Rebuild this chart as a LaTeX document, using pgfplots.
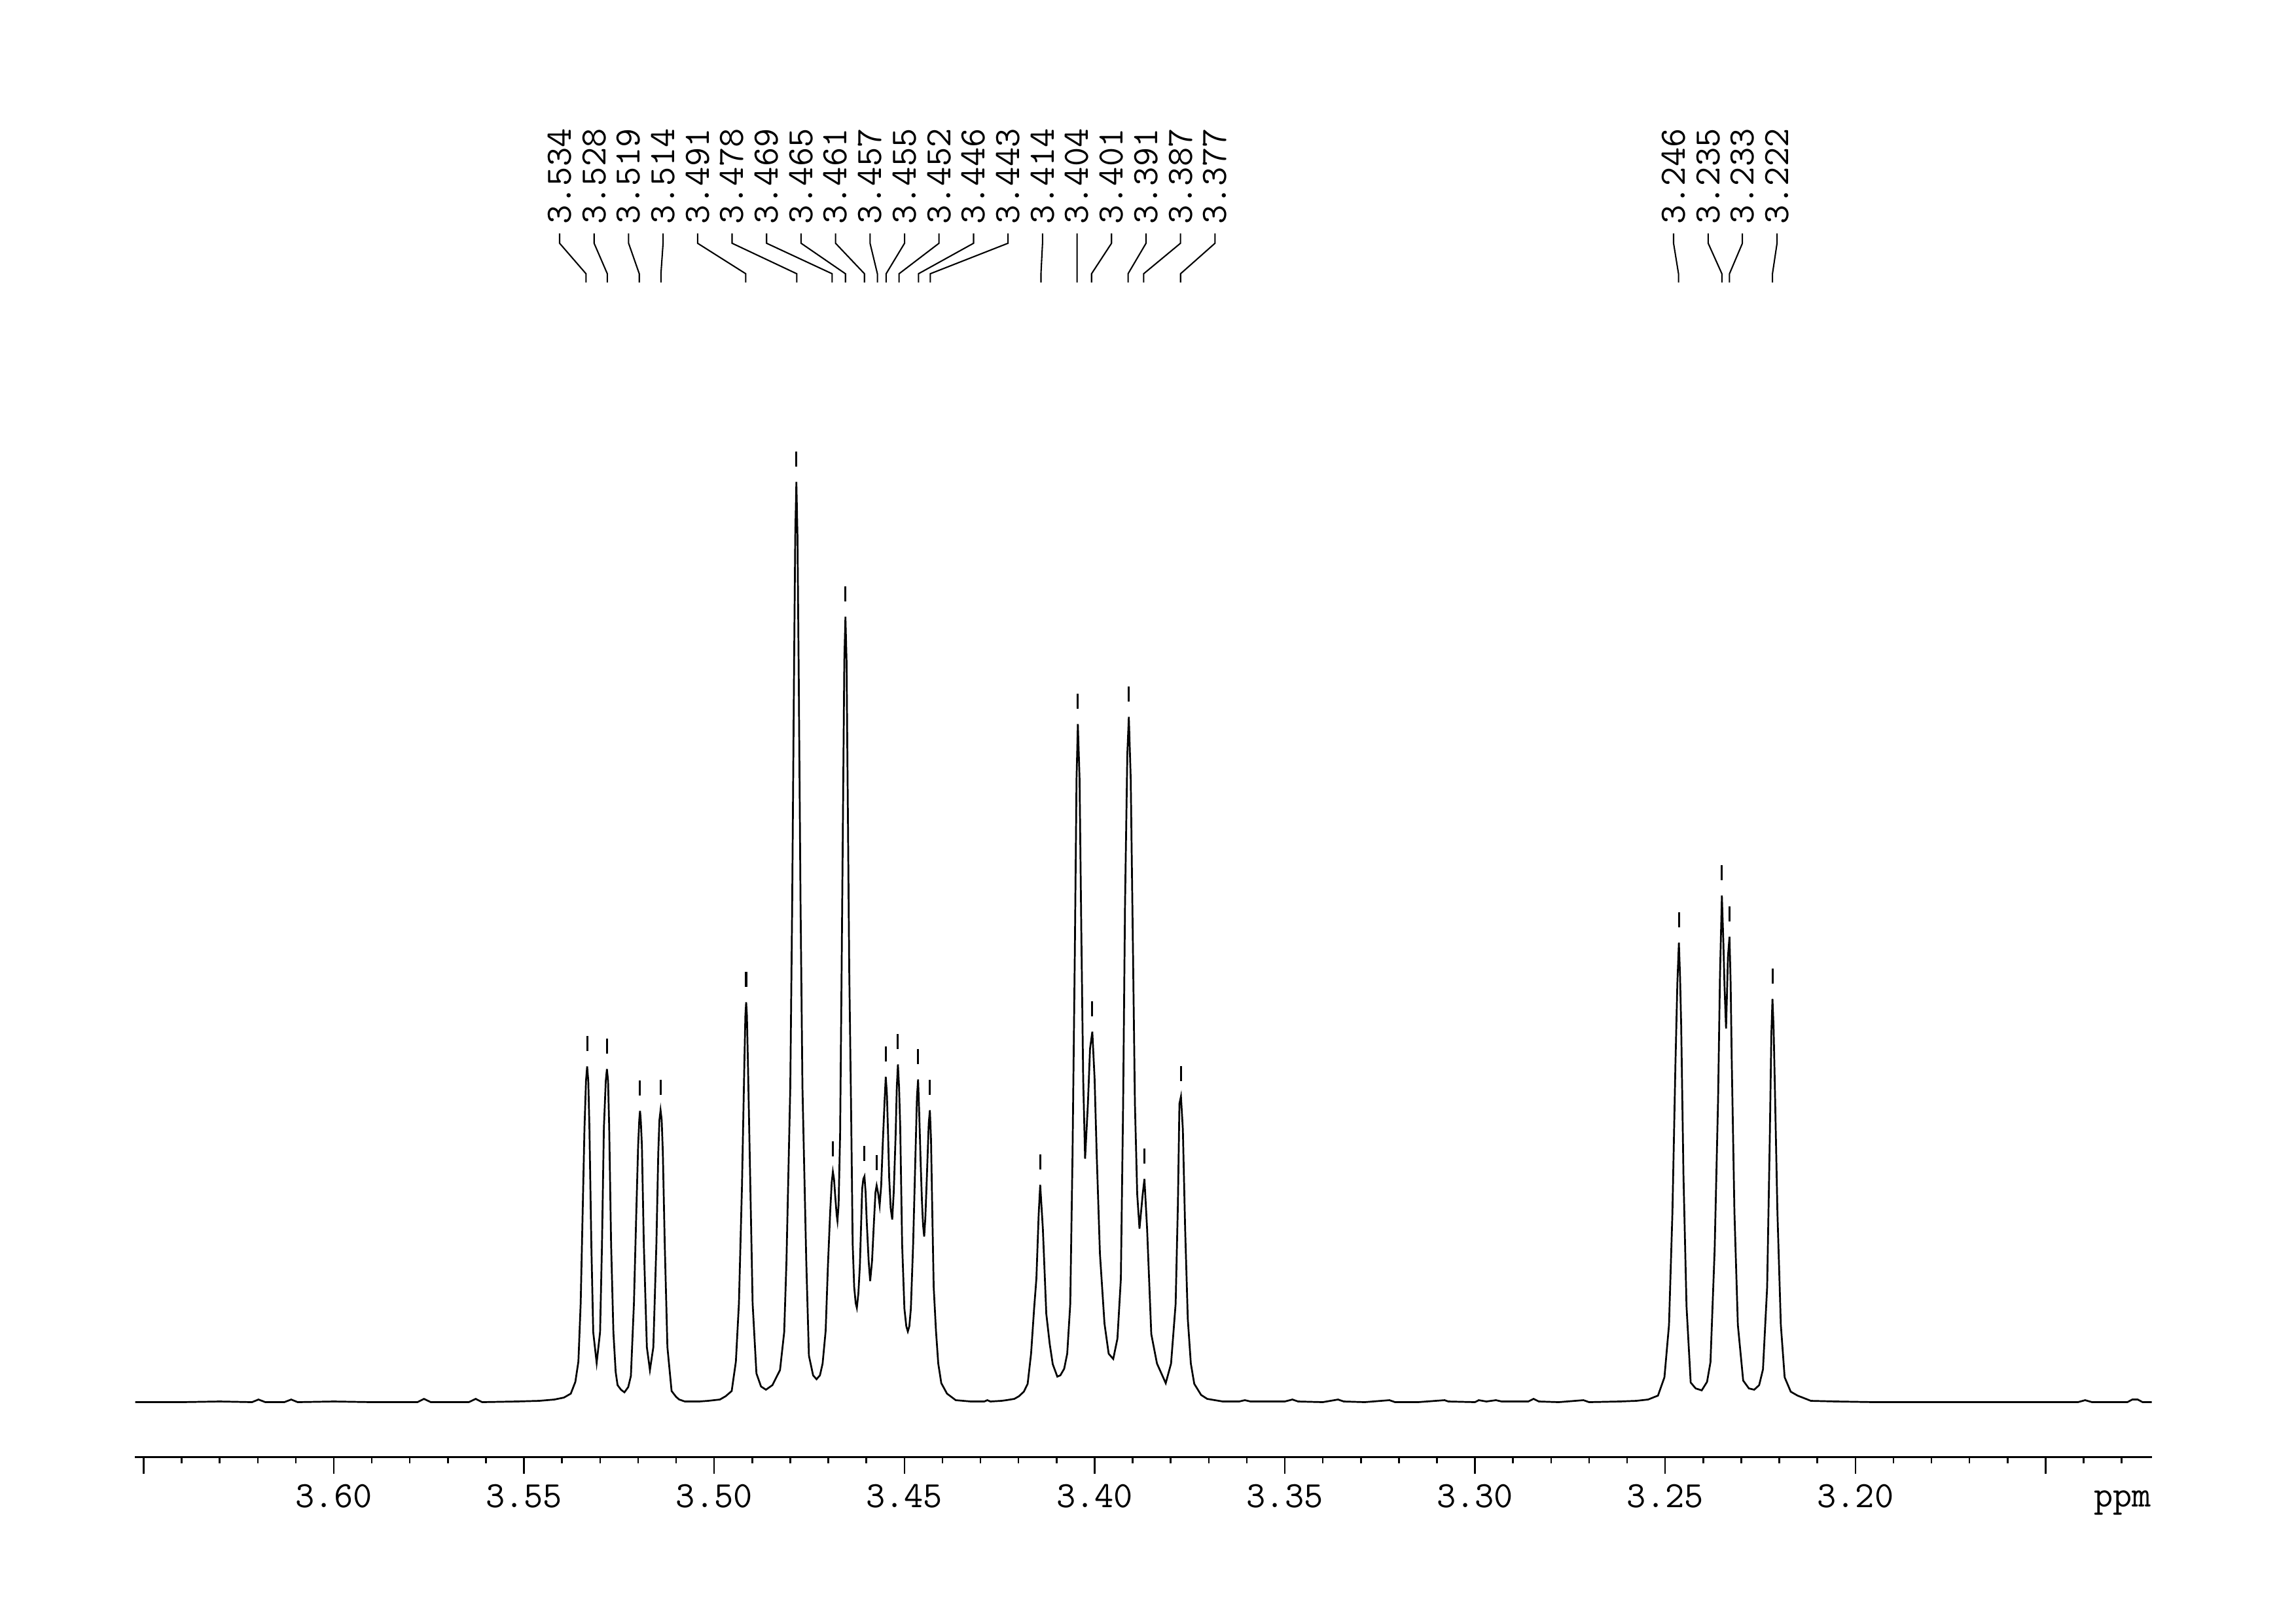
\documentclass[border=0pt]{standalone}
\usepackage{pgfplots}
\pgfplotsset{compat=1.18}
\newcommand\lbl{\fontsize{13.6}{16}\selectfont\ttfamily}
\begin{document}
\begin{tikzpicture}
\useasboundingbox (0,0) rectangle (841.92pt,594.96pt);
\begin{axis}[
  at={(49.54pt,60.55pt)}, anchor=south west,
  scale only axis, width=739.46pt, height=510.41pt,
  x dir=reverse,
  xmin=3.12211, xmax=3.65224, ymin=-85.2, ymax=2041.5,
  axis x line*=bottom, axis y line=none,
  axis line style={line width=0.65pt},
  tick align=outside,
  every tick/.style={black, line width=0.6pt},
  major tick length=6.1pt, minor tick length=2.2pt,
  xtick={3.15,3.20,3.25,3.30,3.35,3.40,3.45,3.50,3.55,3.60,3.65},
  xticklabels={,3.20,3.25,3.30,3.35,3.40,3.45,3.50,3.55,3.60,},
  minor xtick={3.13,3.14,3.16,3.17,3.18,3.19,3.21,3.22,3.23,3.24,3.26,3.27,3.28,3.29,3.31,3.32,3.33,3.34,3.36,3.37,3.38,3.39,3.41,3.42,3.43,3.44,3.46,3.47,3.48,3.49,3.51,3.52,3.53,3.54,3.56,3.57,3.58,3.59,3.61,3.62,3.63,3.64},
  xticklabel style={font=\lbl, anchor=base, yshift=-12.3pt},
  clip=false,
]
\addplot[black, line width=0.65pt] coordinates {
(3.6522,-1) (3.6400,-1) (3.6300,0) (3.6215,-1) (3.6198,3) (3.6180,-1) (3.6130,-1) (3.6112,3) (3.6095,-1) (3.6000,0) (3.5900,-1) (3.5780,-1) (3.5763,4) (3.5745,-1) (3.5645,-1) (3.5627,4) (3.5610,-1) (3.5520,0) (3.5460,1) (3.5420,3) (3.5395,6)
(3.5377,12) (3.5365,30) (3.5357,61) (3.5351,150) (3.5346,284) (3.5341,418) (3.5337,490) (3.5334,512) (3.5331,490) (3.5328,418) (3.5323,240) (3.5318,106) (3.5309,59) (3.5300,106) (3.5295,240) (3.5290,418) (3.5285,490) (3.5282,508) (3.5279,490) (3.5276,418) (3.5271,240) (3.5265,106) (3.5259,45) (3.5254,25) (3.5245,18) (3.5236,14) (3.5226,22) (3.5219,39) (3.5211,150) (3.5205,284) (3.5200,390) (3.5197,430) (3.5195,444) (3.5193,430) (3.5190,390) (3.5185,240) (3.5177,83) (3.5169,48) (3.5160,83) (3.5152,240) (3.5147,380) (3.5144,430) (3.5141,445) (3.5138,430) (3.5135,380) (3.5130,240) (3.5123,83) (3.5112,16) (3.5100,7) (3.5092,3) (3.5077,0) (3.5040,0) (3.5016,1) (3.4985,3) (3.4970,8) (3.4954,16) (3.4943,61) (3.4935,150) (3.4927,329) (3.4921,508) (3.4918,590) (3.4916,610) (3.4914,590) (3.4911,508) (3.4905,329) (3.4899,150) (3.4889,43) (3.4877,23) (3.4864,18) (3.4847,25) (3.4827,48) (3.4816,106) (3.4810,215) (3.4800,480) (3.4795,760) (3.4790,1124) (3.4787,1320) (3.4784,1405) (3.4781,1320) (3.4778,1124) (3.4773,760) (3.4768,480) (3.4758,215) (3.4751,70) (3.4740,40) (3.4731,34) (3.4722,40) (3.4715,58) (3.4707,108) (3.4701,208) (3.4695,291) (3.4691,335) (3.4688,351) (3.4685,340) (3.4682,315) (3.4678,285) (3.4676,276) (3.4673,300) (3.4669,408) (3.4665,660) (3.4660,995) (3.4658,1130) (3.4655,1199) (3.4652,1130) (3.4650,995) (3.4645,660) (3.4640,441) (3.4636,241) (3.4632,175) (3.4628,150) (3.4625,143) (3.4621,165) (3.4617,208) (3.4611,325) (3.4608,340) (3.4605,344) (3.4602,320) (3.4599,275) (3.4594,215) (3.4590,184) (3.4585,215) (3.4580,275) (3.4576,320) (3.4573,330) (3.4569,318) (3.4565,300) (3.4561,330) (3.4557,392) (3.4552,460) (3.4549,496) (3.4546,470) (3.4543,410) (3.4540,342) (3.4536,295) (3.4532,278) (3.4528,320) (3.4523,408) (3.4520,480) (3.4517,515) (3.4514,480) (3.4511,420) (3.4506,241) (3.4500,142) (3.4495,115) (3.4491,107) (3.4487,115) (3.4483,142) (3.4477,241) (3.4471,375) (3.4467,465) (3.4464,492) (3.4461,440) (3.4457,360) (3.4454,308) (3.4451,270) (3.4448,252) (3.4445,280) (3.4441,342) (3.4436,425) (3.4433,445) (3.4430,400) (3.4427,300) (3.4423,175) (3.4417,108) (3.4411,58) (3.4403,28) (3.4388,12) (3.4365,2) (3.4325,0) (3.4290,0) (3.4282,2) (3.4274,0) (3.4245,1) (3.4232,2)
(3.4211,4) (3.4199,8) (3.4186,15) (3.4176,27) (3.4167,73) (3.4159,142) (3.4153,188) (3.4147,286) (3.4143,331) (3.4136,264) (3.4127,134) (3.4118,88) (3.4110,57) (3.4098,38) (3.4090,40) (3.4080,50) (3.4072,73) (3.4064,149) (3.4058,378) (3.4052,684) (3.40475,951) (3.4044,1035) (3.40395,951) (3.4035,722) (3.4030,493) (3.4025,371) (3.40176,455) (3.4012,539) (3.4006,565) (3.4000,493) (3.39945,378) (3.3986,226) (3.3974,119) (3.3963,73) (3.3951,65) (3.3940,96) (3.3931,187) (3.3925,455) (3.3920,760) (3.3914,989) (3.3910,1046) (3.3905,951) (3.3899,684) (3.3894,455) (3.3888,317) (3.3882,264) (3.38735,317) (3.3869,340) (3.3862,264) (3.3851,103) (3.3836,58) (3.3813,28) (3.3799,58) (3.3787,149) (3.3781,302) (3.3777,455) (3.3773,466) (3.3768,416) (3.3762,264) (3.3755,126) (3.3747,58) (3.3738,27) (3.3720,10) (3.3704,4) (3.3663,0)
(3.3620,0) (3.3605,2) (3.3590,0) (3.3500,0) (3.3480,3) (3.3465,0) (3.3400,-1) (3.3360,3) (3.3345,0) (3.3290,-1) (3.3225,2) (3.3210,-1) (3.3150,-1) (3.3080,2) (3.3070,0) (3.3000,-1) (3.2990,2) (3.2970,0) (3.2945,2) (3.2930,0) (3.2860,0) (3.2846,4) (3.2832,0) (3.2780,-1) (3.2715,2) (3.2700,-1) (3.2620,0) (3.2576,1)
(3.2545,3) (3.2519,9) (3.2502,37) (3.2490,117) (3.2481,289) (3.2473,518) (3.2468,640) (3.2464,701) (3.2461,650) (3.2458,575) (3.2452,346) (3.2444,146) (3.2433,29) (3.2420,20) (3.2404,17) (3.2390,30) (3.2381,60) (3.2370,232) (3.2361,461) (3.2356,650) (3.2351,773) (3.2347,700) (3.2344,633) (3.2340,570) (3.2335,680) (3.2331,710) (3.2328,640) (3.2325,518) (3.2318,289) (3.2309,117) (3.2295,32) (3.2280,20) (3.2266,18) (3.2253,25) (3.2243,49) (3.2232,175) (3.2225,404) (3.2221,560) (3.2218,615) (3.2215,570) (3.2212,489) (3.2205,289) (3.2196,117) (3.2186,37) (3.2170,15) (3.2152,9) (3.2117,1)
(3.2050,0) (3.1950,-1) (3.1800,-1) (3.1600,-1) (3.1415,-1) (3.1396,2) (3.1378,-1) (3.1285,-1) (3.1272,3) (3.1258,3) (3.1245,-1) (3.1221,-1)
};
\addplot[only marks, mark=|, mark size=2.8pt, mark options={line width=0.75pt, black}] coordinates {
(3.5334,547) (3.5282,543) (3.5195,479) (3.5141,480) (3.4916,645) (3.4784,1440) (3.4688,386) (3.4655,1234) (3.4605,379) (3.4573,365) (3.4549,531) (3.4517,550) (3.4464,527) (3.4433,480) (3.4143,366) (3.4044,1070) (3.4006,600) (3.3910,1081) (3.3869,375) (3.3773,501) (3.2464,736) (3.2351,808) (3.2331,745) (3.2218,650)
};
\tikzset{conn/.style={black, line width=0.5pt}, plab/.style={rotate=90, anchor=west, inner sep=0pt, font=\lbl}}
\draw[conn] (axis cs:3.54064,1784.8) -- (axis cs:3.54064,1769.8) -- (axis cs:3.5337,1723.2) -- (axis cs:3.5337,1709.8);
\draw[conn] (axis cs:3.53157,1784.8) -- (axis cs:3.53157,1769.8) -- (axis cs:3.5281,1723.2) -- (axis cs:3.5281,1709.8);
\draw[conn] (axis cs:3.52250,1784.8) -- (axis cs:3.52250,1769.8) -- (axis cs:3.5197,1723.2) -- (axis cs:3.5197,1709.8);
\draw[conn] (axis cs:3.51344,1784.8) -- (axis cs:3.51344,1769.8) -- (axis cs:3.5140,1723.2) -- (axis cs:3.5140,1709.8);
\draw[conn] (axis cs:3.50437,1784.8) -- (axis cs:3.50437,1769.8) -- (axis cs:3.4917,1723.2) -- (axis cs:3.4917,1709.8);
\draw[conn] (axis cs:3.49530,1784.8) -- (axis cs:3.49530,1769.8) -- (axis cs:3.4783,1723.2) -- (axis cs:3.4783,1709.8);
\draw[conn] (axis cs:3.48623,1784.8) -- (axis cs:3.48623,1769.8) -- (axis cs:3.4690,1723.2) -- (axis cs:3.4690,1709.8);
\draw[conn] (axis cs:3.47716,1784.8) -- (axis cs:3.47716,1769.8) -- (axis cs:3.4655,1723.2) -- (axis cs:3.4655,1709.8);
\draw[conn] (axis cs:3.46810,1784.8) -- (axis cs:3.46810,1769.8) -- (axis cs:3.4605,1723.2) -- (axis cs:3.4605,1709.8);
\draw[conn] (axis cs:3.45903,1784.8) -- (axis cs:3.45903,1769.8) -- (axis cs:3.4571,1723.2) -- (axis cs:3.4571,1709.8);
\draw[conn] (axis cs:3.44996,1784.8) -- (axis cs:3.44996,1769.8) -- (axis cs:3.4548,1723.2) -- (axis cs:3.4548,1709.8);
\draw[conn] (axis cs:3.44090,1784.8) -- (axis cs:3.44090,1769.8) -- (axis cs:3.4514,1723.2) -- (axis cs:3.4514,1709.8);
\draw[conn] (axis cs:3.43182,1784.8) -- (axis cs:3.43182,1769.8) -- (axis cs:3.4463,1723.2) -- (axis cs:3.4463,1709.8);
\draw[conn] (axis cs:3.42276,1784.8) -- (axis cs:3.42276,1769.8) -- (axis cs:3.4432,1723.2) -- (axis cs:3.4432,1709.8);
\draw[conn] (axis cs:3.41369,1784.8) -- (axis cs:3.41369,1769.8) -- (axis cs:3.4141,1723.2) -- (axis cs:3.4141,1709.8);
\draw[conn] (axis cs:3.40462,1784.8) -- (axis cs:3.40462,1769.8) -- (axis cs:3.4046,1723.2) -- (axis cs:3.4046,1709.8);
\draw[conn] (axis cs:3.39555,1784.8) -- (axis cs:3.39555,1769.8) -- (axis cs:3.4008,1723.2) -- (axis cs:3.4008,1709.8);
\draw[conn] (axis cs:3.38648,1784.8) -- (axis cs:3.38648,1769.8) -- (axis cs:3.3912,1723.2) -- (axis cs:3.3912,1709.8);
\draw[conn] (axis cs:3.37742,1784.8) -- (axis cs:3.37742,1769.8) -- (axis cs:3.3871,1723.2) -- (axis cs:3.3871,1709.8);
\draw[conn] (axis cs:3.36835,1784.8) -- (axis cs:3.36835,1769.8) -- (axis cs:3.3774,1723.2) -- (axis cs:3.3774,1709.8);
\draw[conn] (axis cs:3.2478,1784.8) -- (axis cs:3.2478,1769.8) -- (axis cs:3.2465,1723.2) -- (axis cs:3.2465,1709.8);
\draw[conn] (axis cs:3.2387,1784.8) -- (axis cs:3.2387,1769.8) -- (axis cs:3.2351,1723.2) -- (axis cs:3.2351,1709.8);
\draw[conn] (axis cs:3.2297,1784.8) -- (axis cs:3.2297,1769.8) -- (axis cs:3.2331,1723.2) -- (axis cs:3.2331,1709.8);
\draw[conn] (axis cs:3.2206,1784.8) -- (axis cs:3.2206,1769.8) -- (axis cs:3.2218,1723.2) -- (axis cs:3.2218,1709.8);
\node[plab] at (axis cs:3.54064,1798.2) {3.534};
\node[plab] at (axis cs:3.53157,1798.2) {3.528};
\node[plab] at (axis cs:3.52250,1798.2) {3.519};
\node[plab] at (axis cs:3.51344,1798.2) {3.514};
\node[plab] at (axis cs:3.50437,1798.2) {3.491};
\node[plab] at (axis cs:3.49530,1798.2) {3.478};
\node[plab] at (axis cs:3.48623,1798.2) {3.469};
\node[plab] at (axis cs:3.47716,1798.2) {3.465};
\node[plab] at (axis cs:3.46810,1798.2) {3.461};
\node[plab] at (axis cs:3.45903,1798.2) {3.457};
\node[plab] at (axis cs:3.44996,1798.2) {3.455};
\node[plab] at (axis cs:3.44090,1798.2) {3.452};
\node[plab] at (axis cs:3.43182,1798.2) {3.446};
\node[plab] at (axis cs:3.42276,1798.2) {3.443};
\node[plab] at (axis cs:3.41369,1798.2) {3.414};
\node[plab] at (axis cs:3.40462,1798.2) {3.404};
\node[plab] at (axis cs:3.39555,1798.2) {3.401};
\node[plab] at (axis cs:3.38648,1798.2) {3.391};
\node[plab] at (axis cs:3.37742,1798.2) {3.387};
\node[plab] at (axis cs:3.36835,1798.2) {3.377};
\node[plab] at (axis cs:3.2478,1798.2) {3.246};
\node[plab] at (axis cs:3.2387,1798.2) {3.235};
\node[plab] at (axis cs:3.2297,1798.2) {3.233};
\node[plab] at (axis cs:3.2206,1798.2) {3.222};
\node[anchor=base east, inner sep=0pt, font=\lbl] at (rel axis cs:1,0) [yshift=-18.3pt] {ppm};
\end{axis}
\end{tikzpicture}
\end{document}
